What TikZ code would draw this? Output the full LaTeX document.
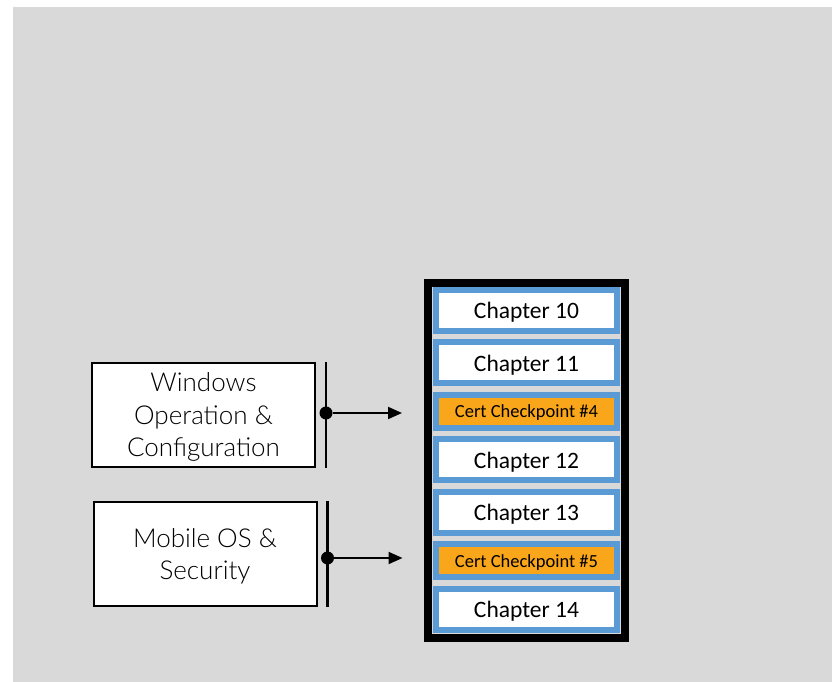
\documentclass[tikz,border=0pt]{standalone}
\usepackage{fontspec}
\setmainfont{Carlito}
\newfontfamily\topicfont{Lato Light}
\usetikzlibrary{positioning,arrows.meta}
\definecolor{bggray}{RGB}{217,217,217}
\definecolor{chapblue}{RGB}{91,155,213}
\definecolor{ckorange}{RGB}{250,166,26}

\begin{document}
\begin{tikzpicture}[x=1pt,y=1pt,
    node distance=5.5pt,
    stack/.style={draw=black, line width=8pt, minimum width=197pt, minimum height=355pt},
    chapter/.style={draw=chapblue, line width=6pt, fill=white, minimum width=181pt,
      minimum height=41pt, inner sep=0pt, text depth=0pt, font=\fontsize{23.5}{26}\selectfont},
    checkpoint/.style={chapter, fill=ckorange, minimum height=33pt,
      font=\fontsize{18.5}{22}\selectfont},
    topic/.style={draw=black, line width=2pt, fill=white, minimum width=223pt,
      minimum height=104pt, align=center, text depth=-4pt,
      font=\topicfont\fontsize{26}{32.5}\selectfont},
    dot/.style={circle, fill=black, inner sep=0pt, minimum size=13pt},
    bar/.style={line width=2.5pt},
    link/.style={line width=2pt, -{Triangle[length=14pt,width=12pt]}}]
  \useasboundingbox (0,0) rectangle (832,682);
  \fill[bggray] (13,0) rectangle (832,675);

  \node[stack] (stack) at (526.5,221.5) {};
  \node[chapter] (ch10) at (526.5,371.5) {Chapter 10};
  \node[chapter, below=of ch10] (ch11) {Chapter 11};
  \node[checkpoint, below=of ch11] (cp4) {Cert Checkpoint \#4};
  \node[chapter, below=of cp4] (ch12) {Chapter 12};
  \node[chapter, below=of ch12] (ch13) {Chapter 13};
  \node[checkpoint, below=of ch13] (cp5) {Cert Checkpoint \#5};
  \node[chapter, below=of cp5] (ch14) {Chapter 14};

  \node[topic] (win) at (203.5,267) {Windows\\Operation \&\\Configuration};
  \node[topic] (mob) at (205,128) {Mobile OS \&\\Security};

  \coordinate (winT) at ([xshift=10pt]win.north east);
  \coordinate (winB) at ([xshift=10pt]win.south east);
  \node[dot] (windot) at ([xshift=10pt,yshift=2pt]win.east) {};
  \coordinate (winend) at ([xshift=86pt,yshift=2pt]win.east);
  \coordinate (mobT) at ([xshift=10pt]mob.north east);
  \coordinate (mobB) at ([xshift=10pt]mob.south east);
  \node[dot] (mobdot) at ([xshift=10pt,yshift=-4pt]mob.east) {};
  \coordinate (mobend) at ([xshift=85pt,yshift=-4pt]mob.east);

  \draw[bar] (winT) -- (winB);
  \draw[bar] (mobT) -- (mobB);
  \draw[link] (windot) -- (winend);
  \draw[link] (mobdot) -- (mobend);
\end{tikzpicture}
\end{document}
